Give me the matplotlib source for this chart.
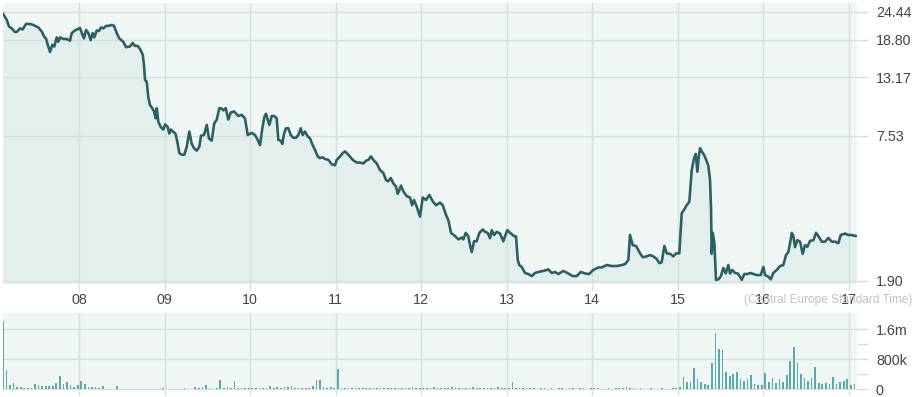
import matplotlib
matplotlib.use('Agg')
import matplotlib.pyplot as plt
import numpy as np
from matplotlib.ticker import FixedLocator, NullLocator

plt.rcParams['font.family'] = ['Liberation Sans', 'DejaVu Sans']

# ---------------- data ----------------
day_ticks = [8, 9, 10, 11, 12, 13, 14, 15, 16, 17]
day_labels = ['08', '09', '10', '11', '12', '13', '14', '15', '16', '17']

price_ticks = [1.90, 7.53, 13.17, 18.80, 24.44]
price_tick_labels = ['1.90', '7.53', '13.17', '18.80', '24.44']

vol_ticks = [0, 800000, 1600000]
vol_tick_labels = ['0', '800k', '1.6m']
vol_minor_ticks = [400000, 1200000]

price_t = [
    7.108, 7.154, 7.181, 7.213, 7.251, 7.271, 7.310, 7.341, 7.380, 7.427, 7.465, 7.524, 7.564, 7.594,
    7.614, 7.634, 7.661, 7.688, 7.711, 7.739, 7.758, 7.778, 7.816, 7.856, 7.895, 7.915, 7.953,
    8.000, 8.012, 8.032, 8.058, 8.082, 8.109, 8.137, 8.160, 8.179, 8.207, 8.234, 8.257, 8.284, 8.316,
    8.343, 8.382, 8.409, 8.441, 8.471, 8.518, 8.550, 8.596, 8.628, 8.655, 8.687, 8.713, 8.745, 8.760,
    8.772, 8.792, 8.810, 8.830, 8.857, 8.877, 8.897, 8.909, 8.928, 8.956, 8.986,
    9.006, 9.037, 9.056, 9.076, 9.096, 9.111, 9.131, 9.154, 9.173, 9.201, 9.232, 9.260, 9.290, 9.318,
    9.345, 9.377, 9.407, 9.427, 9.462, 9.494, 9.520, 9.552, 9.582, 9.610, 9.641, 9.661, 9.688, 9.716,
    9.746, 9.774, 9.813, 9.863, 9.903, 9.941, 9.973,
    10.020, 10.058, 10.090, 10.117, 10.144, 10.167, 10.187, 10.202, 10.226, 10.254, 10.284, 10.312,
    10.331, 10.359, 10.378, 10.398, 10.421, 10.448, 10.476, 10.506, 10.538, 10.565, 10.593, 10.616,
    10.643, 10.675, 10.702, 10.733, 10.760, 10.792, 10.819, 10.846, 10.877, 10.916, 10.956, 10.994,
    11.014, 11.053, 11.084, 11.111, 11.150, 11.201, 11.248, 11.287, 11.325, 11.357, 11.384, 11.415,
    11.442, 11.482, 11.520, 11.559, 11.591, 11.617, 11.646, 11.676, 11.708, 11.727, 11.746, 11.766,
    11.793, 11.833, 11.871, 11.895, 11.918, 11.950, 11.988,
    12.020, 12.058, 12.097, 12.137, 12.176, 12.222, 12.254, 12.292, 12.319, 12.351, 12.398, 12.437,
    12.476, 12.495, 12.523, 12.553, 12.573, 12.593, 12.620, 12.651, 12.682, 12.722, 12.749, 12.780,
    12.807, 12.827, 12.854, 12.885, 12.924, 12.963, 12.982,
    13.009, 13.041, 13.088, 13.111, 13.131, 13.150, 13.178, 13.216, 13.255, 13.295, 13.333, 13.372,
    13.431, 13.489, 13.529, 13.567, 13.606, 13.664, 13.723, 13.774, 13.821, 13.868, 13.918, 13.965,
    14.015, 14.074, 14.113, 14.172, 14.230, 14.288, 14.347, 14.386, 14.425, 14.444, 14.476, 14.515,
    14.562, 14.593, 14.640, 14.678, 14.717, 14.757, 14.787, 14.815, 14.846, 14.874, 14.912, 14.951,
    14.983,
    15.021, 15.049, 15.076, 15.108, 15.138, 15.166, 15.193, 15.213, 15.232, 15.248, 15.263, 15.283,
    15.310, 15.333, 15.360, 15.380, 15.392, 15.400, 15.412, 15.431, 15.450, 15.477, 15.505, 15.536,
    15.564, 15.594, 15.614, 15.641, 15.673, 15.704, 15.731, 15.751, 15.781, 15.816, 15.856, 15.887,
    15.926, 15.973,
    16.004, 16.023, 16.062, 16.090, 16.120, 16.160, 16.199, 16.237, 16.269, 16.296, 16.316, 16.336,
    16.354, 16.374, 16.401, 16.433, 16.464, 16.491, 16.518, 16.550, 16.589, 16.620, 16.647, 16.687,
    16.725, 16.764, 16.803, 16.842, 16.881, 16.909, 16.959, 16.998,
    17.038, 17.088,
]

price_v = [
    24.1, 22.7, 21.3, 20.9, 20.2, 20.2, 20.9, 20.7, 21.8, 21.8, 21.6, 21.1, 20.3, 19.3,
    19.0, 17.9, 16.7, 17.9, 17.6, 19.2, 18.4, 19.2, 18.9, 18.9, 18.6, 20.0, 20.5,
    20.9, 21.0, 20.0, 19.0, 20.6, 20.0, 18.7, 20.0, 19.2, 20.5, 20.4, 21.1, 20.9, 21.4,
    21.4, 21.6, 21.4, 20.0, 19.0, 18.4, 17.5, 17.6, 18.2, 17.7, 17.7, 17.2, 16.3, 14.8,
    12.8, 12.6, 10.9, 10.1, 9.8, 9.5, 8.9, 9.8, 8.6, 8.2, 8.0,
    8.4, 8.2, 7.7, 8.0, 7.85, 7.8, 7.65, 7.0, 6.4, 6.3, 6.3, 6.8, 7.85, 7.0,
    6.7, 6.55, 6.8, 7.55, 7.6, 8.36, 7.35, 7.2, 8.5, 8.77, 9.8, 9.8, 9.6, 9.8,
    8.8, 9.4, 9.5, 9.1, 9.2, 8.9, 7.6,
    7.75, 7.6, 7.25, 6.9, 8.1, 9.0, 9.3, 8.9, 8.36, 9.1, 9.1, 8.9,
    7.25, 7.2, 6.98, 7.7, 8.1, 8.1, 7.6, 7.4, 7.4, 7.6, 8.1, 7.6,
    7.85, 7.5, 7.35, 6.9, 6.6, 6.2, 6.1, 6.15, 6.05, 6.0, 5.75, 5.7,
    6.0, 6.2, 6.4, 6.5, 6.3, 6.0, 5.85, 5.85, 5.8, 5.95, 6.0, 6.2,
    6.0, 5.8, 5.45, 5.3, 4.95, 4.9, 5.05, 4.8, 4.65, 4.35, 4.5, 4.7,
    4.45, 4.25, 4.2, 3.9, 4.1, 3.85, 3.5,
    4.2, 4.1, 4.3, 4.05, 3.9, 4.0, 3.9, 3.56, 3.39, 3.0, 2.91, 2.82,
    2.87, 2.82, 3.0, 2.91, 2.67, 2.5, 2.77, 2.77, 3.0, 3.1, 3.03, 3.0,
    2.85, 3.08, 2.94, 3.03, 2.98, 2.77, 2.9,
    3.08, 3.0, 2.91, 2.9, 2.32, 2.21, 2.17, 2.05, 2.03, 1.99, 2.05, 2.07,
    2.09, 2.12, 2.05, 2.07, 2.03, 2.09, 2.04, 1.99, 1.99, 2.07, 2.04, 2.03,
    2.11, 2.16, 2.16, 2.21, 2.19, 2.19, 2.21, 2.23, 2.32, 2.94, 2.67, 2.65,
    2.47, 2.38, 2.4, 2.43, 2.4, 2.34, 2.25, 2.27, 2.65, 2.47, 2.46, 2.4,
    2.47,
    2.47, 3.62, 3.73, 3.91, 4.03, 5.45, 6.1, 6.35, 5.36, 6.16, 6.7, 6.5,
    6.29, 6.03, 5.67, 4.96, 3.73, 2.46, 3.0, 2.72, 1.92, 1.93, 1.98, 2.15,
    2.04, 2.21, 2.04, 2.11, 2.05, 2.04, 1.98, 1.92, 2.03, 2.03, 2.05, 2.03,
    2.01, 2.01,
    2.17, 2.01, 1.98, 1.93, 2.05, 2.11, 2.19, 2.21, 2.43, 2.5, 2.72, 3.0,
    2.92, 2.62, 2.8, 2.76, 2.46, 2.67, 2.63, 2.78, 2.8, 3.0, 2.91, 2.76,
    2.76, 2.86, 2.76, 2.76, 2.72, 2.94, 2.98, 2.94,
    2.94, 2.91,
]

# hourly volume (thousands), first bar at day 7.11
vol_start = 7.11
vol_k = [
    1830, 520, 120, 160, 60, 70, 30, 27, 40, 134, 116, 89, 89, 89, 98, 160, 356, 142, 205, 116, 60, 116, 231, 142,
    71, 53, 53, 40, 98, 18, 18, 18, 89, 18, 18, 18, 15, 15, 18, 15, 18, 15, 18, 15, 18, 36, 18, 15,
    15, 18, 15, 27, 18, 20, 71, 30, 71, 116, 30, 20, 30, 249, 40, 53, 30, 222, 36, 36, 30, 36, 30, 36,
    36, 30, 36, 89, 40, 53, 30, 53, 53, 98, 40, 30, 36, 30, 27, 89, 249, 249, 53, 30, 53, 27, 534, 27,
    27, 27, 30, 27, 36, 27, 30, 27, 40, 30, 27, 36, 27, 30, 27, 36, 40, 30, 27, 53, 36, 27, 30, 36,
    36, 53, 40, 36, 30, 40, 53, 36, 27, 40, 36, 30, 53, 40, 36, 30, 27, 36, 40, 53, 36, 30, 40, 190,
    40, 30, 27, 36, 30, 27, 20, 27, 30, 20, 27, 20, 27, 30, 20, 27, 36, 20, 27, 30, 20, 27, 30, 36,
    20, 20, 27, 20, 27, 30, 40, 60, 36, 27, 20, 27, 20, 20, 27, 20, 20, 27, 20, 20, 27, 36, 60, 330,
    196, 196, 578, 267, 196, 133, 107, 694, 1490, 1070, 1040, 462, 356, 400, 462, 267, 222, 285, 374, 133, 107, 107, 445, 196,
    311, 178, 267, 196, 374, 756, 1140, 712, 418, 311, 222, 294, 596, 160, 133, 160, 133, 330, 133, 196, 222, 285, 107, 133,
]

timezone_label = '(Central Europe Standard Time)'

# ---------------- style ----------------
W, H = 914, 397
BG = '#f0f6f3'
FILL = '#e3efec'
GRID = '#d3e0dc'
LINE = '#2a6061'
BAR = '#5aa9ad'
TXT = '#444444'

fig = plt.figure(figsize=(W / 100, H / 100), dpi=100)
fig.patch.set_facecolor('white')


def px_box(x0, y0, x1, y1):
    return [x0 / W, 1 - y1 / H, (x1 - x0) / W, (y1 - y0) / H]


PT = 72 / 100  # points per pixel

ax = fig.add_axes(px_box(3, 3, 857, 283))
axv = fig.add_axes(px_box(3, 313, 857, 390))

xlim = (7.111, 17.099)

# price panel
ax.set_facecolor(BG)
ax.set_yscale('log')
ax.fill_between(price_t, price_v, 1.0, color=FILL, zorder=1, lw=0)
ax.plot(price_t, price_v, color=LINE, lw=2.6 * PT, zorder=3,
        solid_joinstyle='round', solid_capstyle='round')
ax.set_xlim(*xlim)
ax.set_ylim(1.864, 26.6)
ax.yaxis.set_major_locator(FixedLocator(price_ticks))
ax.yaxis.set_minor_locator(NullLocator())
ax.set_yticklabels(price_tick_labels)
ax.set_xticks(day_ticks)
ax.set_xticklabels(day_labels)
ax.yaxis.tick_right()
ax.set_axisbelow('line')
ax.grid(True, color=GRID, lw=1.0)
for s in ax.spines.values():
    s.set_visible(False)
ax.tick_params(axis='y', which='major', length=11 * PT, width=1, color=GRID,
               pad=8 * PT, labelsize=10.3, labelcolor=TXT)
ax.tick_params(axis='x', which='major', length=7 * PT, width=1, color=GRID,
               pad=2, labelsize=10.3, labelcolor=TXT)

# volume panel
axv.set_facecolor(BG)
vol_t = [vol_start + i / 24 for i in range(len(vol_k))]
axv.bar(vol_t, [v * 1000 for v in vol_k], width=0.02, color=BAR, lw=0, zorder=3)
axv.set_xlim(*xlim)
axv.set_ylim(-20000, 2035000)
axv.set_yticks(vol_ticks)
axv.set_yticklabels(vol_tick_labels)
axv.yaxis.set_minor_locator(FixedLocator(vol_minor_ticks))
axv.set_xticks(day_ticks)
axv.set_xticklabels([])
axv.yaxis.tick_right()
axv.set_axisbelow(True)
axv.grid(True, which='major', color=GRID, lw=1.0)
for s in axv.spines.values():
    s.set_visible(False)
axv.tick_params(axis='y', which='both', length=11 * PT, width=1, color=GRID,
                pad=8 * PT, labelsize=10.3, labelcolor=TXT)
axv.tick_params(axis='x', which='major', length=5 * PT, width=1, color=GRID)

fig.text(912 / W, 1 - 300 / H, timezone_label, ha='right', va='center',
         fontsize=8.6, color='#c2c2c2')

fig.savefig('out.png', dpi=100, facecolor='white')
